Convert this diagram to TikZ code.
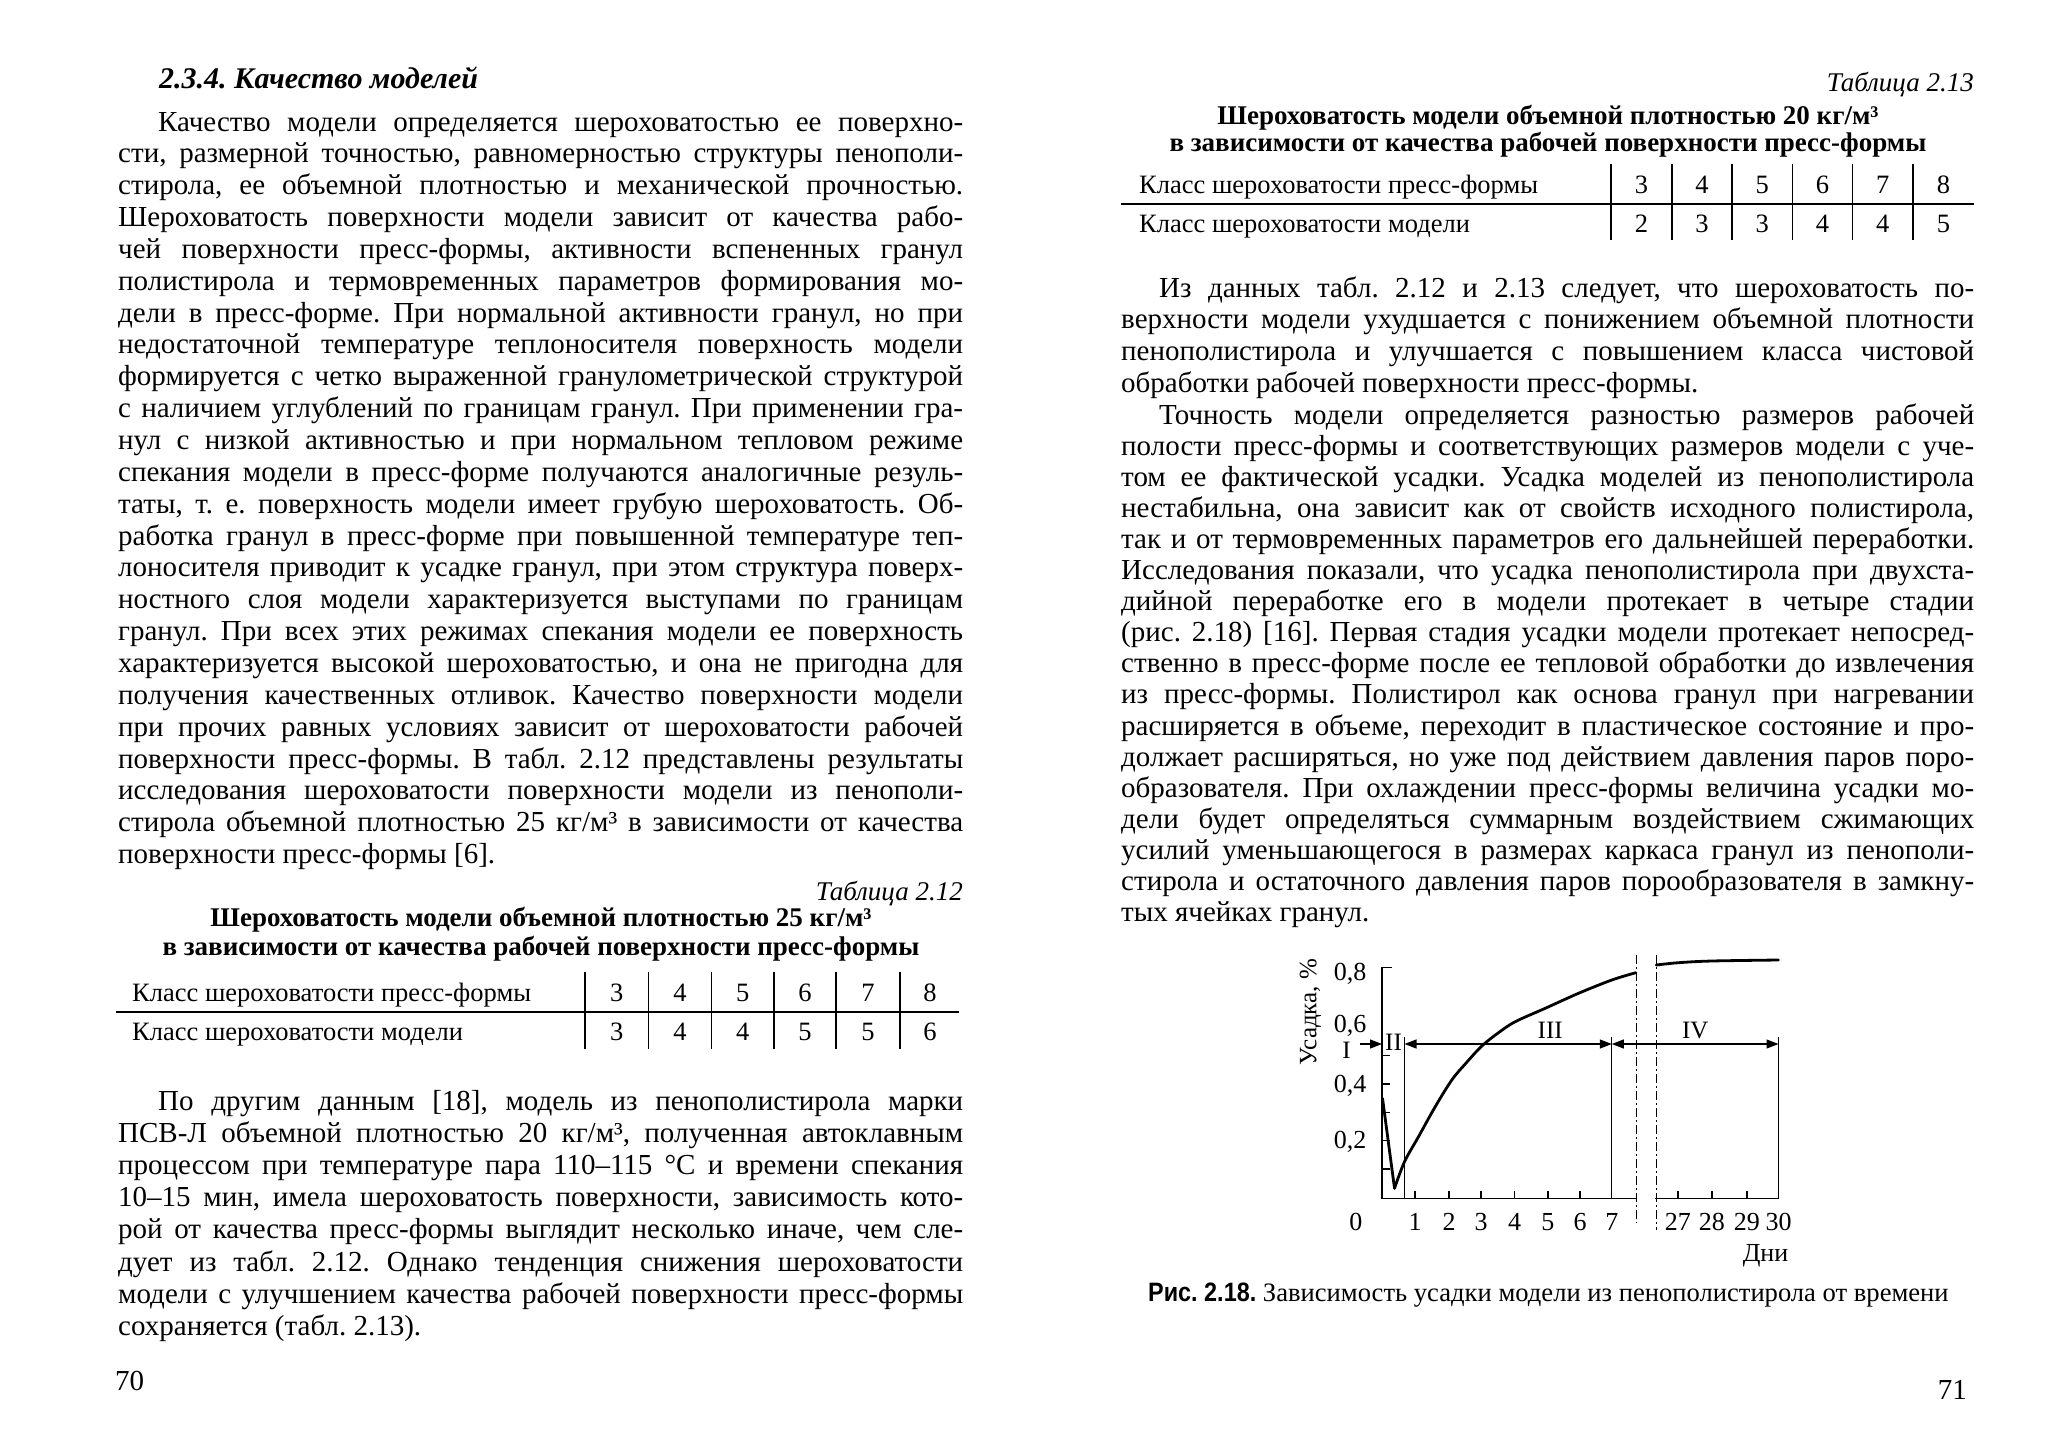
\documentclass[tikz,border=0pt]{standalone}
\usepackage{graphicx}
\usepackage{fontspec}
\setmainfont{Liberation Serif}
\newfontfamily\capsans{Liberation Sans}
\usetikzlibrary{arrows.meta}
\frenchspacing
\newcommand\bodyfont{\fontsize{29}{32}\selectfont}
\newcommand\tabfont{\fontsize{26.5}{30}\selectfont}
\newcommand\titfont{\fontsize{27}{30}\selectfont\bfseries}
\newcommand\figfont{\fontsize{26}{30}\selectfont}
\newcommand\jbox[2]{\sbox0{#2}\ifdim\wd0>#1pt\relax\resizebox{#1pt}{\height}{#2}\else\makebox[#1pt][s]{#2}\fi}
\newcommand\JL[5]{\node[txt] (#1) at (#2,#3) {\bodyfont\frenchspacing\jbox{#4}{#5}};}
\newcommand\NL[4]{\node[txt] (#1) at (#2,#3) {\bodyfont\frenchspacing #4};}
\begin{document}
\begin{tikzpicture}[x=1pt,y=-1pt,
  txt/.style={anchor=base west,inner sep=0pt},
  rtxt/.style={anchor=base east,inner sep=0pt},
  ctxt/.style={anchor=base,inner sep=0pt},
  rule/.style={line width=1.3pt,black},
  axis/.style={line width=1.6pt,black},
  thinl/.style={line width=1.3pt,black},
  curve/.style={line width=2.8pt,black,line join=round,line cap=round},
  dashdot/.style={line width=1.1pt,black,dash pattern=on 9pt off 3pt on 2pt off 3pt},
  arr/.style={line width=1.2pt,-{Triangle[length=12pt,width=9pt]}},
  darr/.style={line width=1.2pt,{Triangle[length=12pt,width=9pt]}-{Triangle[length=12pt,width=9pt]}}]
\useasboundingbox (0,0) rectangle (2061,1440);
\fill[white] (0,0) rectangle (2061,1440);

% ---------------- left page ----------------
\node[txt] (head) at (159,88) {\fontsize{30}{34}\selectfont\bfseries\itshape 2.3.4. Качество моделей};
\JL{a0}{158}{131}{805}{Качество модели определяется шероховатостью ее поверхно-}
\JL{a1}{118}{131+31.85*1}{845}{сти, размерной точностью, равномерностью структуры пенополи-}
\JL{a2}{118}{131+31.85*2}{845}{стирола, ее объемной плотностью и механической прочностью.}
\JL{a3}{118}{131+31.85*3}{845}{Шероховатость поверхности модели зависит от качества рабо-}
\JL{a4}{118}{131+31.85*4}{845}{чей поверхности пресс-формы, активности вспененных гранул}
\JL{a5}{118}{131+31.85*5}{845}{полистирола и термовременных параметров формирования мо-}
\JL{a6}{118}{131+31.85*6}{845}{дели в пресс-форме. При нормальной активности гранул, но при}
\JL{a7}{118}{131+31.85*7}{845}{недостаточной температуре теплоносителя поверхность модели}
\JL{a8}{118}{131+31.85*8}{845}{формируется с четко выраженной гранулометрической структурой}
\JL{a9}{118}{131+31.85*9}{845}{с наличием углублений по границам гранул. При применении гра-}
\JL{a10}{118}{131+31.85*10}{845}{нул с низкой активностью и при нормальном тепловом режиме}
\JL{a11}{118}{131+31.85*11}{845}{спекания модели в пресс-форме получаются аналогичные резуль-}
\JL{a12}{118}{131+31.85*12}{845}{таты, т. е. поверхность модели имеет грубую шероховатость. Об-}
\JL{a13}{118}{131+31.85*13}{845}{работка гранул в пресс-форме при повышенной температуре теп-}
\JL{a14}{118}{131+31.85*14}{845}{лоносителя приводит к усадке гранул, при этом структура поверх-}
\JL{a15}{118}{131+31.85*15}{845}{ностного слоя модели характеризуется выступами по границам}
\JL{a16}{118}{131+31.85*16}{845}{гранул. При всех этих режимах спекания модели ее поверхность}
\JL{a17}{118}{131+31.85*17}{845}{характеризуется высокой шероховатостью, и она не пригодна для}
\JL{a18}{118}{131+31.85*18}{845}{получения качественных отливок. Качество поверхности модели}
\JL{a19}{118}{131+31.85*19}{845}{при прочих равных условиях зависит от шероховатости рабочей}
\JL{a20}{118}{131+31.85*20}{845}{поверхности пресс-формы. В табл. 2.12 представлены результаты}
\JL{a21}{118}{131+31.85*21}{845}{исследования шероховатости поверхности модели из пенополи-}
\JL{a22}{118}{131+31.85*22}{845}{стирола объемной плотностью 25 кг/м³ в зависимости от качества}
\NL{a23}{118}{131+31.85*23}{поверхности пресс-формы [6].}

\node[rtxt] (t12) at (963,900) {\fontsize{27}{30}\selectfont\itshape Таблица 2.12};
\node[ctxt] (t12a) at (541,926) {\titfont Шероховатость модели объемной плотностью 25 кг/м³};
\node[ctxt] (t12b) at (541,955) {\titfont в зависимости от качества рабочей поверхности пресс-формы};
\draw[rule] (116,1012) -- (959,1012);
\foreach \xx in {585,648.5,711.5,774,836,900} {\draw[rule] (\xx,972) -- (\xx,1049);}
\node[txt] (r12a) at (132,1001) {\tabfont Класс шероховатости пресс-формы};
\node[txt] (r12b) at (132,1040) {\tabfont Класс шероховатости модели};
\foreach \xx/\va/\vb in {616.75/3/3,680/4/4,742.75/5/4,805/6/5,868/7/5,930/8/6}
  {\node[ctxt] at (\xx,1001) {\tabfont \va};
   \node[ctxt] at (\xx,1040) {\tabfont \vb};}

\JL{b0}{158}{1110}{805}{По другим данным [18], модель из пенополистирола марки}
\JL{b1}{118}{1110+32.2*1}{845}{ПСВ-Л объемной плотностью 20 кг/м³, полученная автоклавным}
\JL{b2}{118}{1110+32.2*2}{845}{процессом при температуре пара 110–115 °С и времени спекания}
\JL{b3}{118}{1110+32.2*3}{845}{10–15 мин, имела шероховатость поверхности, зависимость кото-}
\JL{b4}{118}{1110+32.2*4}{845}{рой от качества пресс-формы выглядит несколько иначе, чем сле-}
\JL{b5}{118}{1110+32.2*5}{845}{дует из табл. 2.12. Однако тенденция снижения шероховатости}
\JL{b6}{118}{1110+32.2*6}{845}{модели с улучшением качества рабочей поверхности пресс-формы}
\NL{b7}{118}{1110+32.2*7}{сохраняется (табл. 2.13).}
\node[txt] (p70) at (115,1390) {\bodyfont 70};

% ---------------- right page ----------------
\node[rtxt] (t13) at (1974,91) {\fontsize{27}{30}\selectfont\itshape Таблица 2.13};
\node[ctxt] (t13a) at (1548,124) {\titfont Шероховатость модели объемной плотностью 20 кг/м³};
\node[ctxt] (t13b) at (1548,151) {\titfont в зависимости от качества рабочей поверхности пресс-формы};
\draw[rule] (1121,204) -- (1974,204);
\foreach \xx in {1611,1672,1732,1792.5,1852.5,1913} {\draw[rule] (\xx,164) -- (\xx,240);}
\node[txt] (r13a) at (1139,193) {\tabfont Класс шероховатости пресс-формы};
\node[txt] (r13b) at (1139,232) {\tabfont Класс шероховатости модели};
\foreach \xx/\va/\vb in {1641.5/3/2,1702/4/3,1762.25/5/3,1822.5/6/4,1882.75/7/4,1943.5/8/5}
  {\node[ctxt] at (\xx,193) {\tabfont \va};
   \node[ctxt] at (\xx,232) {\tabfont \vb};}

\JL{c0}{1159}{297}{815}{Из данных табл. 2.12 и 2.13 следует, что шероховатость по-}
\JL{c1}{1121}{297+31.9*1}{853}{верхности модели ухудшается с понижением объемной плотности}
\JL{c2}{1121}{297+31.9*2}{853}{пенополистирола и улучшается с повышением класса чистовой}
\NL{c3}{1121}{297+31.9*3}{обработки рабочей поверхности пресс-формы.}

\JL{d0}{1159}{424}{815}{Точность модели определяется разностью размеров рабочей}
\JL{d1}{1121}{424+31.1*1}{853}{полости пресс-формы и соответствующих размеров модели с уче-}
\JL{d2}{1121}{424+31.1*2}{853}{том ее фактической усадки. Усадка моделей из пенополистирола}
\JL{d3}{1121}{424+31.1*3}{853}{нестабильна, она зависит как от свойств исходного полистирола,}
\JL{d4}{1121}{424+31.1*4}{853}{так и от термовременных параметров его дальнейшей переработки.}
\JL{d5}{1121}{424+31.1*5}{853}{Исследования показали, что усадка пенополистирола при двухста-}
\JL{d6}{1121}{424+31.1*6}{853}{дийной переработке его в модели протекает в четыре стадии}
\JL{d7}{1121}{424+31.1*7}{853}{(рис. 2.18) [16]. Первая стадия усадки модели протекает непосред-}
\JL{d8}{1121}{424+31.1*8}{853}{ственно в пресс-форме после ее тепловой обработки до извлечения}
\JL{d9}{1121}{424+31.1*9}{853}{из пресс-формы. Полистирол как основа гранул при нагревании}
\JL{d10}{1121}{424+31.1*10}{853}{расширяется в объеме, переходит в пластическое состояние и про-}
\JL{d11}{1121}{424+31.1*11}{853}{должает расширяться, но уже под действием давления паров поро-}
\JL{d12}{1121}{424+31.1*12}{853}{образователя. При охлаждении пресс-формы величина усадки мо-}
\JL{d13}{1121}{424+31.1*13}{853}{дели будет определяться суммарным воздействием сжимающих}
\JL{d14}{1121}{424+31.1*14}{853}{усилий уменьшающегося в размерах каркаса гранул из пенополи-}
\JL{d15}{1121}{424+31.1*15}{853}{стирола и остаточного давления паров порообразователя в замкну-}
\NL{d16}{1121}{424+31.1*16}{тых ячейках гранул.}

% ---------------- chart ----------------
\begin{scope}[xshift=-1.5pt]
\draw[axis] (1393,967.5) -- (1383.5,967.5) -- (1383.5,1198.3) -- (1637.3,1198.3);
\draw[axis] (1656.7,1198.3) -- (1780,1198.3);
\foreach \yy in {1169,1140.6,1112.3,1084,1055.6} {\draw[axis] (1383.5,\yy) -- (1391,\yy);}
\foreach \xx in {1416.7,1450.7,1482.7,1516,1549.3,1581.7,1679.3,1713.3,1748.3} {\draw[axis] (\xx,1198.3) -- (\xx,1191);}
\draw[thinl] (1406,1036.7) -- (1406,1198.3);
\draw[thinl] (1613.3,1036.7) -- (1613.3,1198.3);
\draw[thinl] (1780,1036.7) -- (1780,1198.3);
\draw[dashdot] (1638.3,955) -- (1638.3,1223);
\draw[dashdot] (1657.7,955) -- (1657.7,1230);
\draw[arr] (1361,1044) -- (1383.5,1044);
\draw[darr] (1406,1044) -- (1613.3,1044);
\draw[darr] (1613.3,1044) -- (1780,1044);
\draw[curve] (1384,1098.3) -- (1396,1188.3);
\draw[curve] plot[smooth,tension=0.55] coordinates {(1396,1188.3) (1406,1161.7) (1420,1136.7) (1436.7,1106.7) (1453.3,1080) (1466.7,1064) (1483.3,1046) (1500,1032.7) (1516.7,1021.7) (1546.7,1008.3) (1580,993.3) (1613.3,980) (1637.3,972.7)};
\draw[curve] plot[smooth,tension=0.55] coordinates {(1657.7,965) (1680,962.7) (1713.3,961) (1780,960)};
% labels
\node[rtxt] (y8) at (1368,980) {\figfont 0,8};
\node[rtxt] (y6) at (1368,1032) {\figfont 0,6};
\node[rtxt] (y4) at (1368,1092) {\figfont 0,4};
\node[rtxt] (y2) at (1368,1148.5) {\figfont 0,2};
\node[anchor=center,inner sep=0pt,rotate=90] (ylab) at (1312,1012) {\fontsize{25}{28}\selectfont Усадка, \%};
\node[ctxt] (s1) at (1348,1058) {\fontsize{25}{28}\selectfont I};
\node[ctxt] (s2) at (1395,1050) {\fontsize{25}{28}\selectfont II};
\node[ctxt] (s3) at (1551.7,1038) {\fontsize{25}{28}\selectfont III};
\node[ctxt] (s4) at (1696.7,1038) {\fontsize{25}{28}\selectfont IV};
\node[ctxt] (x0) at (1357.3,1230) {\figfont 0};
\foreach \xx/\lab in {1416.7/1,1450.7/2,1482.7/3,1516/4,1549.3/5,1581.7/6,1613.3/7,1679.3/27,1713.3/28,1748.3/29,1780/30}
  {\node[ctxt] at (\xx,1230) {\figfont \lab};}
\node[rtxt] (dni) at (1790,1261) {\figfont Дни};
\end{scope}
\node[txt] (cap) at (1148,1301) {\fontsize{26.6}{30}\selectfont{\capsans\bfseries\scalebox{0.88}[1]{Рис. 2.18.}} Зависимость усадки модели из пенополистирола от времени};
\node[rtxt] (p71) at (1967,1399) {\bodyfont 71};
\end{tikzpicture}
\end{document}
